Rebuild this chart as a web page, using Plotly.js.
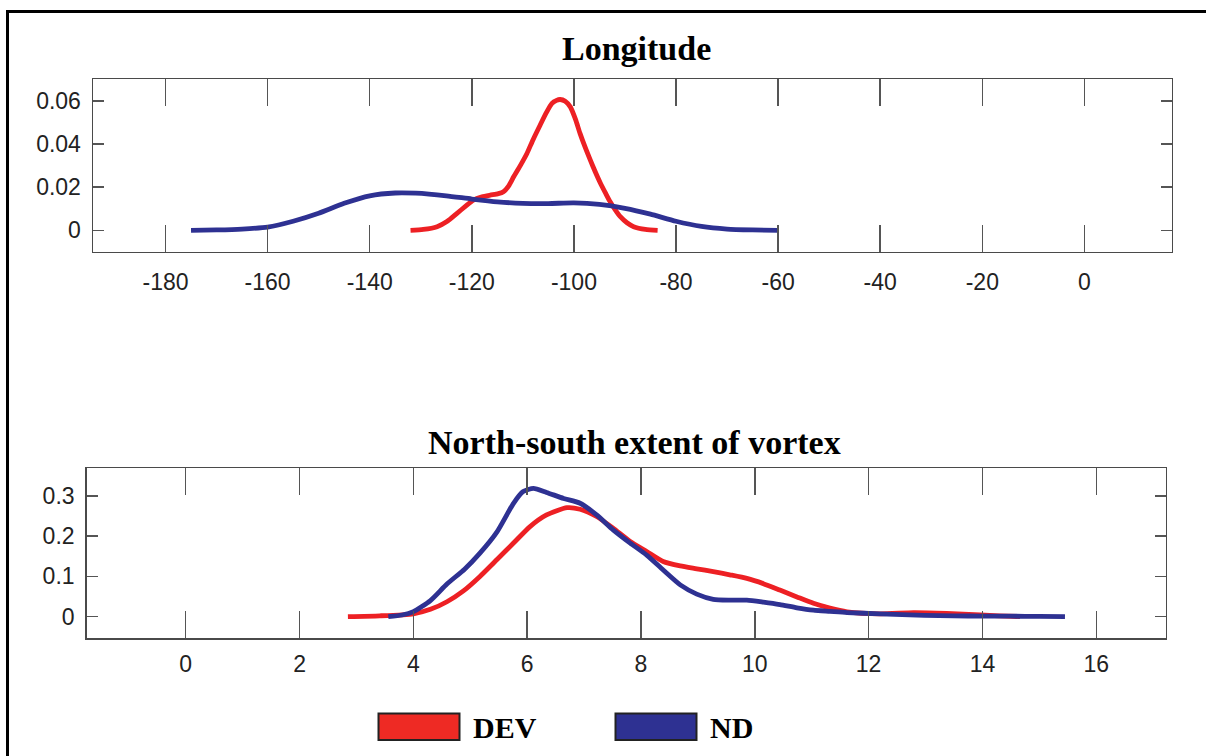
<!DOCTYPE html>
<html>
<head>
<meta charset="utf-8">
<script src="https://cdn.plot.ly/plotly-3.0.1.min.js"></script>
<style>
  html, body { margin: 0; padding: 0; background: #fff; }
  #chart { width: 1206px; height: 756px; }
</style>
</head>
<body>
<div id="chart"></div>
<script>
// ---- Data ----
const seriesNames = ["DEV", "ND"];
const panelTitles = ["Longitude", "North-south extent of vortex"];

// Longitude panel
const lonDEV_x = [-132, -129.5, -126.8, -124.8, -122.9, -121.2, -119.7, -118, -116.4, -114.8, -113.8, -112.8, -111.8, -110.5, -109.2, -108, -106.6, -105.4, -104.3, -103.4, -102.7, -101.7, -100.7, -99.7, -98.8, -97.8, -96.8, -95.8, -94.8, -93.8, -92.9, -91.9, -90.9, -89.6, -88.3, -86, -83.6];
const lonDEV_y = [0, 0.0004, 0.0017, 0.0042, 0.0079, 0.0112, 0.0140, 0.0155, 0.0163, 0.0170, 0.0179, 0.0205, 0.0248, 0.0300, 0.0356, 0.0420, 0.0488, 0.0545, 0.0588, 0.0602, 0.0606, 0.0598, 0.0572, 0.0515, 0.0449, 0.0385, 0.0326, 0.0270, 0.0218, 0.0172, 0.0132, 0.0095, 0.0063, 0.0035, 0.0017, 0.0004, 0];

const lonND_x = [-175, -170, -165, -160, -155, -150, -145, -140, -135, -131, -125, -120, -115, -110, -105, -100, -95, -90, -85, -80, -75, -70, -65, -60];
const lonND_y = [0, 0.0002, 0.0006, 0.0015, 0.0042, 0.0079, 0.0125, 0.0160, 0.0173, 0.0172, 0.0160, 0.0145, 0.0132, 0.0125, 0.0124, 0.0127, 0.0120, 0.0102, 0.0075, 0.0042, 0.0018, 0.0006, 0.0002, 0];

// North-south extent panel
const nsDEV_x = [2.85, 3.41, 4.0, 4.3, 4.59, 4.88, 5.17, 5.47, 5.76, 6.05, 6.34, 6.70, 6.93, 7.22, 7.51, 7.81, 8.10, 8.39, 8.69, 8.98, 9.27, 9.56, 9.86, 10.15, 10.44, 10.74, 11.03, 11.32, 11.62, 12.2, 12.79, 13.37, 13.96, 14.3, 14.66];
const nsDEV_y = [0, 0.002, 0.007, 0.018, 0.037, 0.064, 0.100, 0.142, 0.183, 0.224, 0.253, 0.271, 0.267, 0.249, 0.220, 0.187, 0.162, 0.137, 0.126, 0.119, 0.112, 0.104, 0.095, 0.082, 0.066, 0.049, 0.033, 0.021, 0.012, 0.007, 0.010, 0.008, 0.004, 0.002, 0];

const nsND_x = [3.56, 3.8, 4.0, 4.3, 4.59, 4.9, 5.17, 5.47, 5.76, 5.93, 6.11, 6.34, 6.64, 6.93, 7.22, 7.51, 7.81, 8.10, 8.39, 8.69, 8.98, 9.27, 9.56, 9.86, 10.15, 10.44, 10.74, 11.03, 11.32, 11.62, 12.2, 12.98, 13.5, 14.0, 14.5, 15.0, 15.45];
const nsND_y = [0, 0.004, 0.0124, 0.040, 0.081, 0.118, 0.158, 0.211, 0.282, 0.311, 0.319, 0.309, 0.294, 0.282, 0.253, 0.216, 0.183, 0.153, 0.116, 0.079, 0.056, 0.043, 0.041, 0.041, 0.036, 0.030, 0.022, 0.016, 0.013, 0.010, 0.007, 0.003, 0.002, 0.001, 0.001, 0.0005, 0];

// Tick values / labels
const lonTickVals = [-180, -160, -140, -120, -100, -80, -60, -40, -20, 0];
const lonTickText = ["-180", "-160", "-140", "-120", "-100", "-80", "-60", "-40", "-20", "0"];
const lonYTickVals = [0, 0.02, 0.04, 0.06];
const lonYTickText = ["0", "0.02", "0.04", "0.06"];
const nsTickVals = [0, 2, 4, 6, 8, 10, 12, 14, 16];
const nsTickText = ["0", "2", "4", "6", "8", "10", "12", "14", "16"];
const nsYTickVals = [0, 0.1, 0.2, 0.3];
const nsYTickText = ["0", "0.1", "0.2", "0.3"];

// ---- Styling ----
const W = 1206, H = 756;
const RED = "#ED2024";
const BLUE = "#2E3192";
const FRAME = "#4a4a4a";
const TICKC = "#555555";
const tickFont = { family: "Liberation Sans, Arial, sans-serif", size: 23, color: "#222" };
const titleFont = { family: "Liberation Serif, Times New Roman, serif", size: 34, color: "#000" };

const px = v => v / W;
const py = v => 1 - v / H;

function line(x, y, color, xa, ya) {
  return {
    type: "scatter", mode: "lines", x: x, y: y,
    xaxis: xa, yaxis: ya, showlegend: false, hoverinfo: "skip",
    line: { color: color, width: 4.8, shape: "spline", smoothing: 0.6 }
  };
}

const data = [
  line(lonDEV_x, lonDEV_y, RED, "x", "y"),
  line(lonND_x, lonND_y, BLUE, "x", "y"),
  line(nsDEV_x, nsDEV_y, RED, "x2", "y2"),
  line(nsND_x, nsND_y, BLUE, "x2", "y2")
];

function xAxis(domain, range, vals, text, anchor, standoff) {
  return {
    domain: domain, range: range, anchor: anchor,
    tickmode: "array", tickvals: vals, ticktext: text,
    ticks: "inside", ticklen: 27, tickwidth: 1.5, tickcolor: TICKC,
    showline: true, linecolor: FRAME, linewidth: 1.5, mirror: "ticks",
    showgrid: false, zeroline: false, tickfont: tickFont, ticklabelstandoff: standoff,
    fixedrange: true
  };
}
function yAxis(domain, range, vals, text, anchor) {
  return {
    domain: domain, range: range, anchor: anchor,
    tickmode: "array", tickvals: vals, ticktext: text,
    ticks: "inside", ticklen: 11, tickwidth: 1.5, tickcolor: TICKC,
    showline: true, linecolor: FRAME, linewidth: 1.5, mirror: "ticks",
    showgrid: false, zeroline: false, tickfont: tickFont, ticklabelstandoff: 6,
    fixedrange: true
  };
}

const layout = {
  width: W, height: H,
  margin: { l: 0, r: 0, t: 0, b: 0 },
  paper_bgcolor: "#fff", plot_bgcolor: "#fff",
  showlegend: false,
  xaxis: xAxis([px(93), px(1171.7)], [-194.2, 17.1], lonTickVals, lonTickText, "y", 9),
  yaxis: yAxis([py(251.7), py(79)], [-0.0099, 0.0701], lonYTickVals, lonYTickText, "x"),
  xaxis2: xAxis([px(86.7), px(1165.7)], [-1.74, 17.22], nsTickVals, nsTickText, "y2", 5),
  yaxis2: yAxis([py(638.3), py(468.3)], [-0.054, 0.369], nsYTickVals, nsYTickText, "x2"),
  annotations: [
    { text: "<b>" + panelTitles[0] + "</b>", xref: "paper", yref: "paper",
      x: px(636), y: py(48), xanchor: "center", yanchor: "middle",
      showarrow: false, font: titleFont },
    { text: "<b>" + panelTitles[1] + "</b>", xref: "paper", yref: "paper",
      x: px(634), y: py(443), xanchor: "center", yanchor: "middle",
      showarrow: false, font: titleFont },
    { text: "<b>" + seriesNames[0] + "</b>", xref: "paper", yref: "paper",
      x: px(471), y: py(727), xanchor: "left", yanchor: "middle",
      showarrow: false, font: { family: titleFont.family, size: 30, color: "#000" } },
    { text: "<b>" + seriesNames[1] + "</b>", xref: "paper", yref: "paper",
      x: px(708), y: py(727), xanchor: "left", yanchor: "middle",
      showarrow: false, font: { family: titleFont.family, size: 30, color: "#000" } }
  ],
  shapes: [
    // outer frame (top and left edges visible)
    { type: "rect", xref: "paper", yref: "paper", x0: px(7.5), x1: 1.05, y0: -0.05, y1: py(11.5),
      line: { color: "#000", width: 3 }, fillcolor: "rgba(0,0,0,0)" },
    // legend swatches
    { type: "rect", xref: "paper", yref: "paper", x0: px(378.5), x1: px(459.5), y0: py(740), y1: py(713.5),
      line: { color: "#222", width: 2 }, fillcolor: "#EE2A24" },
    { type: "rect", xref: "paper", yref: "paper", x0: px(615.5), x1: px(696.5), y0: py(740), y1: py(713.5),
      line: { color: "#222", width: 2 }, fillcolor: BLUE }
  ]
};

Plotly.newPlot("chart", data, layout, { displayModeBar: false, staticPlot: true });
</script>
</body>
</html>
